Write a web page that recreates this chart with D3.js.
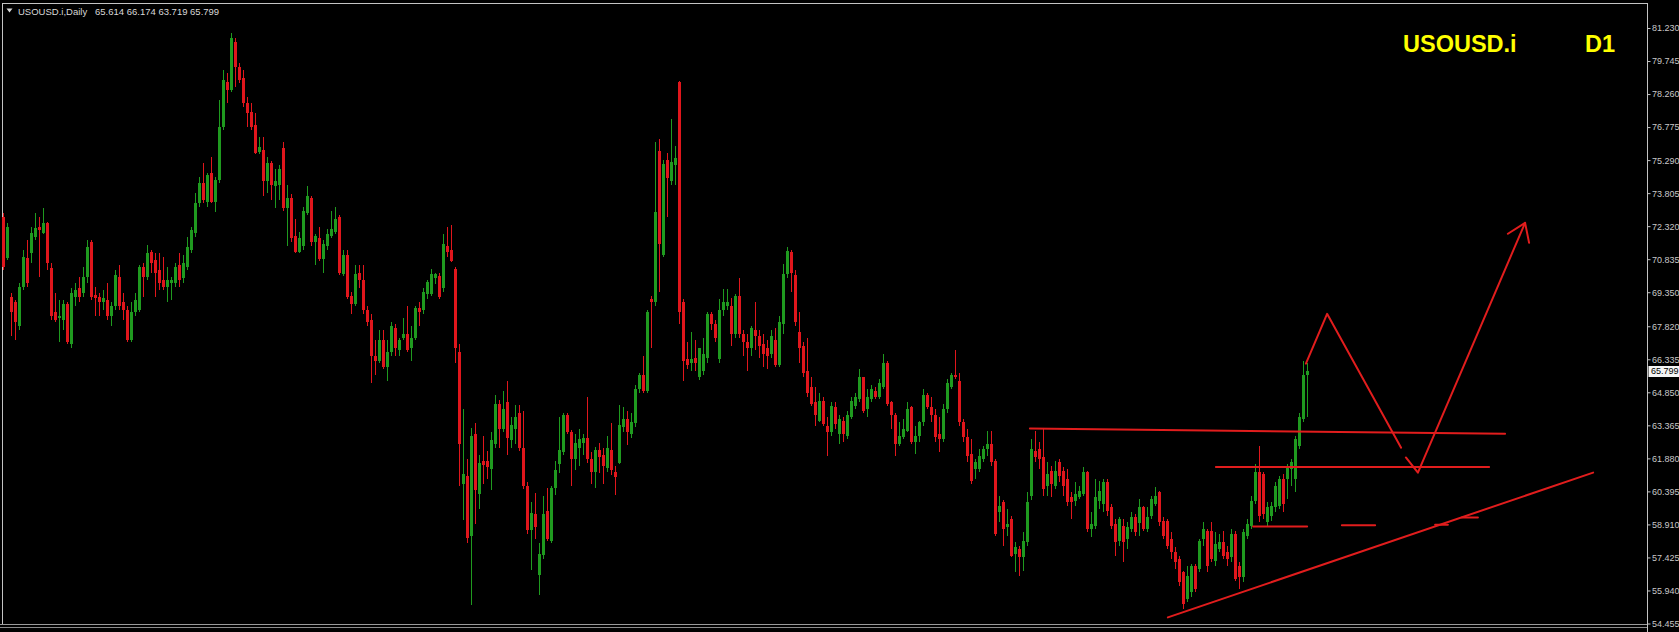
<!DOCTYPE html>
<html>
<head>
<meta charset="utf-8">
<script src="https://cdn.jsdelivr.net/npm/d3@7/dist/d3.min.js"></script>
<style>
  html, body { margin: 0; padding: 0; background: #000; overflow: hidden; }
  #chart { width: 1679px; height: 632px; }
</style>
</head>
<body>
<div id="chart"></div>
<script>
// chart texts
const symbolName = 'USOUSD.i';
const timeframeName = 'D1';
const headerName = 'USOUSD.i,Daily';
const headerValues = '65.614 66.174 63.719 65.799';
const lastPrice = 65.799;

// price axis labels
const priceTicks = [81.230, 79.745, 78.260, 76.775, 75.290, 73.805, 72.320, 70.835, 69.350,
    67.820, 66.335, 64.850, 63.365, 61.880, 60.395, 58.910, 57.425, 55.940, 54.455];

// daily bars, oldest first
const opens = [
    72.75, 70.91, 69.15, 68.89, 67.81, 69.60, 70.91, 71.13, 71.85, 72.30,
    72.03, 72.48, 70.46, 68.44, 68.17, 68.12, 68.80, 67.00, 69.15, 69.56,
    69.33, 70.05, 71.62, 69.24, 69.15, 68.89, 69.02, 68.26, 68.71, 70.05,
    68.89, 68.57, 67.22, 68.44, 68.57, 70.50, 70.05, 71.18, 70.82, 70.37,
    69.91, 69.60, 69.78, 69.78, 70.59, 70.01, 70.50, 71.26, 72.03, 73.38,
    74.27, 73.42, 74.72, 73.42, 74.41, 76.79, 78.81, 78.45, 80.60, 79.48,
    78.99, 77.87, 77.46, 76.88, 75.66, 75.75, 74.36, 75.17, 74.14, 74.18,
    75.84, 73.15, 73.60, 71.89, 71.18, 71.44, 72.93, 73.60, 71.62, 71.80,
    70.86, 71.44, 71.89, 72.07, 72.75, 70.19, 71.04, 69.20, 68.80, 70.23,
    69.91, 68.53, 68.12, 66.46, 66.28, 67.18, 65.97, 66.64, 67.76, 66.73,
    67.31, 67.49, 66.82, 67.31, 68.62, 68.53, 69.29, 69.29, 70.01, 70.10,
    69.56, 71.44, 71.26, 70.41, 66.64, 60.71, 61.07, 58.38, 62.96, 60.26,
    61.74, 61.74, 61.38, 62.51, 64.31, 63.19, 64.40, 62.69, 63.19, 63.90,
    62.33, 60.62, 58.65, 59.37, 56.63, 57.52, 59.50, 58.15, 60.53, 61.61,
    62.15, 63.85, 63.05, 61.83, 62.33, 62.56, 62.78, 61.83, 61.25, 62.24,
    62.01, 61.43, 62.24, 61.25, 61.65, 63.27, 63.67, 62.96, 63.45, 64.98,
    65.61, 64.89, 69.06, 68.89, 75.71, 71.04, 75.30, 74.36, 75.08, 78.81,
    68.89, 66.33, 66.15, 66.41, 65.52, 65.83, 66.41, 68.35, 67.94, 66.33,
    68.57, 68.75, 68.75, 67.45, 69.20, 67.45, 67.13, 66.82, 67.67, 67.36,
    67.04, 66.86, 66.55, 67.22, 66.10, 67.94, 70.19, 71.18, 70.14, 67.54,
    66.91, 65.79, 65.07, 64.40, 63.54, 64.44, 63.32, 63.05, 64.17, 62.96,
    63.54, 62.87, 63.76, 64.22, 64.53, 65.52, 64.08, 64.53, 64.89, 64.66,
    65.11, 66.19, 64.40, 63.85, 62.51, 62.82, 63.09, 64.17, 62.60, 62.87,
    63.50, 64.75, 64.17, 63.85, 62.96, 62.73, 64.08, 65.11, 65.65, 65.34,
    63.50, 62.82, 62.06, 61.38, 61.38, 61.83, 62.28, 62.51, 61.74, 59.46,
    59.90, 58.78, 59.14, 57.57, 57.80, 57.44, 58.11, 60.17, 62.20, 62.28,
    61.92, 60.62, 61.30, 60.62, 61.70, 61.30, 60.94, 60.13, 59.95, 60.13,
    60.26, 61.25, 58.69, 58.83, 59.95, 59.81, 60.80, 59.68, 58.92, 58.15,
    58.83, 58.24, 58.69, 59.23, 58.99, 59.68, 58.69, 59.28, 59.81, 60.35,
    59.05, 59.05, 58.24, 57.66, 57.34, 56.76, 55.55, 55.86, 57.03, 56.89,
    58.24, 58.60, 58.60, 57.26, 57.80, 58.11, 57.66, 57.44, 58.47, 57.03,
    56.54, 58.38, 58.83, 59.95, 61.25, 61.16, 59.01, 59.28, 59.68, 59.72,
    60.94, 60.94, 61.38, 60.94, 62.42, 63.63, 65.614
];
const highs = [
    72.93, 72.48, 69.33, 69.02, 69.78, 71.26, 71.71, 72.30, 72.93, 72.75,
    73.15, 72.52, 70.68, 69.33, 69.02, 69.02, 68.89, 69.56, 69.78, 70.05,
    70.50, 71.71, 71.71, 69.60, 69.33, 69.47, 69.78, 68.89, 70.37, 70.59,
    69.33, 68.71, 68.89, 69.33, 70.59, 70.68, 71.49, 71.26, 71.13, 71.13,
    70.95, 70.50, 70.05, 70.68, 71.13, 71.04, 71.85, 72.30, 73.82, 74.54,
    75.17, 74.72, 75.44, 74.54, 78.00, 79.35, 79.21, 81.01, 80.78, 79.66,
    79.35, 78.13, 77.87, 77.42, 76.34, 76.34, 75.44, 75.26, 74.90, 75.08,
    76.11, 74.18, 73.78, 72.66, 72.07, 73.20, 74.14, 73.69, 71.98, 72.30,
    71.71, 72.21, 73.02, 73.20, 72.84, 71.26, 71.26, 69.38, 70.59, 70.59,
    70.59, 68.71, 68.35, 67.18, 67.67, 67.67, 67.18, 68.03, 67.94, 67.31,
    68.17, 68.71, 67.85, 68.71, 68.89, 69.56, 69.92, 70.41, 70.23, 70.23,
    71.98, 72.30, 72.39, 70.50, 67.00, 64.08, 61.84, 63.23, 63.45, 62.02,
    62.87, 62.20, 63.05, 64.75, 64.49, 64.93, 65.34, 63.72, 64.26, 64.26,
    64.00, 60.80, 59.90, 60.31, 58.06, 60.18, 60.54, 60.62, 61.74, 63.76,
    63.90, 63.90, 63.14, 62.96, 63.18, 62.96, 64.62, 62.15, 62.37, 62.56,
    62.33, 62.87, 63.45, 61.52, 64.26, 64.17, 63.99, 63.90, 65.20, 65.70,
    66.50, 68.57, 69.20, 76.11, 76.25, 75.30, 75.62, 77.15, 75.93, 78.85,
    69.06, 67.13, 67.54, 67.22, 66.86, 67.27, 68.48, 68.48, 68.08, 69.06,
    69.51, 69.51, 69.11, 69.29, 70.01, 67.63, 67.45, 67.85, 68.89, 67.67,
    67.45, 67.22, 67.63, 67.76, 68.26, 70.64, 71.40, 71.26, 70.37, 68.44,
    67.09, 67.31, 65.56, 65.11, 64.84, 64.62, 63.72, 64.40, 64.40, 63.85,
    63.76, 63.99, 64.62, 64.84, 65.88, 65.56, 64.98, 65.20, 65.07, 65.43,
    66.55, 66.24, 64.44, 63.94, 63.50, 63.63, 64.40, 64.22, 63.32, 63.54,
    64.98, 64.84, 64.66, 64.08, 63.76, 64.31, 65.43, 65.74, 66.77, 65.74,
    63.63, 63.18, 62.73, 61.83, 62.28, 62.42, 63.09, 63.09, 61.83, 60.18,
    60.03, 59.59, 59.28, 58.11, 57.93, 58.56, 60.35, 62.73, 63.09, 62.60,
    63.18, 61.70, 61.52, 61.74, 61.83, 61.47, 61.38, 60.35, 60.80, 60.62,
    61.47, 61.30, 59.46, 60.94, 60.85, 60.94, 60.94, 59.81, 59.14, 59.23,
    59.14, 59.01, 59.46, 59.37, 60.04, 59.72, 59.68, 60.17, 60.58, 60.40,
    59.23, 59.14, 58.56, 57.89, 57.48, 56.80, 57.03, 57.12, 57.12, 58.24,
    59.01, 58.69, 59.01, 58.56, 58.47, 58.60, 57.93, 58.69, 58.60, 57.21,
    58.69, 59.14, 60.17, 61.61, 62.42, 61.25, 59.90, 59.90, 60.80, 61.07,
    61.16, 61.61, 61.83, 62.87, 63.94, 66.24, 66.174
];
const lows = [
    70.37, 70.82, 67.36, 67.22, 67.67, 69.47, 69.60, 70.68, 71.71, 70.05,
    71.95, 70.37, 68.12, 67.99, 67.13, 67.67, 67.00, 66.86, 68.71, 68.89,
    69.15, 69.78, 69.02, 68.26, 68.26, 68.57, 68.12, 67.81, 68.57, 68.57,
    68.12, 67.13, 67.13, 68.26, 68.44, 69.15, 69.91, 70.23, 69.15, 69.47,
    69.47, 68.89, 69.02, 69.60, 69.60, 69.78, 70.37, 71.13, 71.85, 73.20,
    73.38, 73.20, 73.38, 72.97, 74.27, 76.65, 77.87, 78.36, 78.58, 78.76,
    77.69, 76.79, 76.65, 75.55, 75.55, 73.69, 73.82, 73.51, 73.15, 73.51,
    73.02, 71.44, 71.62, 71.13, 71.13, 71.26, 72.84, 71.44, 70.59, 70.77,
    70.23, 71.26, 71.80, 71.98, 70.14, 70.10, 69.06, 68.35, 68.71, 69.56,
    68.35, 67.85, 65.25, 65.61, 66.15, 65.88, 65.34, 66.46, 66.46, 66.46,
    67.18, 66.64, 66.28, 67.18, 67.85, 68.35, 69.06, 69.20, 69.74, 69.06,
    69.38, 70.95, 70.70, 66.15, 60.62, 59.10, 58.06, 55.28, 58.92, 59.59,
    60.71, 60.94, 60.44, 62.33, 62.33, 63.05, 62.02, 62.33, 62.51, 62.20,
    60.48, 58.47, 56.85, 58.24, 55.73, 57.34, 58.15, 58.06, 60.22, 61.21,
    62.02, 62.96, 60.62, 61.34, 61.52, 62.02, 61.65, 60.71, 60.53, 61.21,
    60.71, 61.25, 61.12, 60.22, 61.61, 63.05, 62.47, 62.78, 63.27, 64.80,
    64.80, 64.80, 66.82, 68.75, 69.38, 70.95, 72.75, 74.18, 74.18, 67.94,
    65.38, 65.92, 65.83, 65.83, 65.40, 65.61, 66.15, 67.63, 67.13, 66.15,
    68.26, 68.57, 66.95, 67.27, 67.27, 66.50, 65.83, 66.50, 66.73, 66.41,
    66.01, 65.92, 66.41, 66.01, 66.01, 67.45, 70.01, 69.38, 67.81, 66.19,
    65.56, 64.66, 64.22, 63.32, 63.50, 63.32, 61.97, 62.87, 63.18, 62.51,
    62.60, 62.73, 63.63, 64.08, 64.40, 63.94, 63.72, 64.40, 64.53, 64.53,
    64.98, 64.22, 63.18, 61.97, 62.42, 62.73, 63.05, 62.51, 62.06, 62.60,
    63.32, 64.08, 63.50, 62.60, 62.15, 62.60, 63.94, 64.98, 65.43, 63.32,
    62.60, 61.70, 60.71, 60.94, 61.25, 61.70, 61.97, 61.52, 58.38, 59.01,
    57.93, 58.38, 57.44, 56.76, 56.58, 56.80, 57.93, 60.03, 61.70, 61.38,
    60.17, 60.17, 60.13, 60.49, 60.80, 60.17, 59.73, 59.14, 59.73, 60.04,
    60.17, 58.56, 58.33, 58.69, 59.59, 59.46, 59.28, 58.69, 57.48, 57.93,
    57.21, 57.80, 58.56, 58.38, 58.38, 58.60, 58.56, 59.14, 59.72, 58.83,
    58.24, 57.80, 57.34, 56.89, 56.13, 55.10, 55.42, 55.64, 55.86, 56.76,
    57.93, 56.76, 57.21, 57.03, 57.66, 57.34, 57.03, 57.21, 56.36, 55.99,
    56.31, 58.24, 58.69, 59.81, 59.01, 59.14, 58.83, 59.05, 59.46, 59.59,
    59.46, 60.04, 60.62, 60.35, 62.28, 63.50, 63.719
];
const closes = [
    70.50, 72.30, 68.44, 67.99, 69.60, 70.95, 69.78, 72.03, 72.25, 72.16,
    72.48, 70.68, 68.26, 68.12, 68.26, 68.80, 67.09, 69.33, 69.47, 69.15,
    70.05, 71.40, 69.15, 69.11, 68.89, 69.11, 68.26, 68.71, 70.14, 68.71,
    68.57, 67.22, 68.44, 69.02, 70.50, 70.05, 71.13, 70.68, 70.23, 69.78,
    69.60, 69.91, 69.91, 70.50, 69.91, 70.68, 71.40, 72.16, 73.38, 74.27,
    73.51, 74.63, 73.42, 74.41, 76.79, 78.90, 78.45, 80.78, 79.48, 78.90,
    77.87, 77.42, 76.79, 75.62, 75.89, 74.36, 75.17, 74.18, 74.36, 74.90,
    73.15, 73.60, 71.80, 71.18, 71.80, 73.02, 73.69, 71.62, 71.89, 70.86,
    71.53, 71.98, 72.21, 72.66, 70.23, 71.04, 69.15, 68.80, 70.19, 69.91,
    68.53, 68.03, 66.46, 66.28, 67.18, 65.97, 66.64, 67.85, 66.82, 67.18,
    67.49, 66.73, 67.31, 68.62, 68.44, 69.38, 69.83, 70.19, 70.19, 69.15,
    71.53, 71.18, 70.77, 66.82, 62.51, 61.16, 58.29, 62.87, 60.44, 61.65,
    61.56, 61.47, 62.69, 64.31, 63.19, 64.08, 62.78, 63.36, 63.72, 62.33,
    60.62, 58.65, 59.41, 58.78, 57.57, 59.37, 58.24, 60.53, 61.34, 62.24,
    63.85, 63.05, 61.83, 62.56, 62.73, 62.78, 61.83, 61.25, 62.24, 61.92,
    61.52, 62.33, 61.34, 61.03, 63.36, 63.67, 63.05, 63.50, 65.02, 65.61,
    64.89, 68.48, 68.89, 72.97, 71.53, 75.12, 74.50, 75.21, 75.39, 68.48,
    66.24, 66.10, 66.33, 66.15, 66.82, 66.55, 68.39, 67.94, 67.27, 68.57,
    68.89, 68.89, 67.45, 69.20, 67.45, 67.13, 66.82, 67.76, 67.36, 66.95,
    66.55, 66.50, 67.36, 66.10, 67.99, 70.19, 71.22, 70.23, 67.99, 66.86,
    65.74, 64.84, 64.31, 63.85, 64.44, 63.41, 63.05, 64.22, 63.41, 63.63,
    62.96, 63.85, 64.44, 64.62, 65.56, 63.99, 64.62, 64.98, 64.66, 65.29,
    66.19, 64.31, 63.85, 62.51, 62.87, 63.18, 64.08, 62.60, 62.87, 63.50,
    64.75, 64.17, 63.85, 62.82, 62.73, 64.08, 65.29, 65.65, 65.52, 63.50,
    62.82, 61.97, 60.85, 61.70, 61.97, 62.28, 62.51, 61.70, 58.47, 59.73,
    58.69, 58.92, 57.48, 57.89, 57.44, 58.15, 59.90, 62.28, 61.92, 61.83,
    60.49, 61.16, 60.71, 61.30, 61.07, 60.62, 59.90, 59.90, 60.26, 60.40,
    61.25, 58.69, 58.92, 60.13, 60.40, 60.80, 59.50, 58.83, 58.11, 59.14,
    58.11, 58.78, 59.23, 58.56, 59.68, 58.69, 59.23, 60.04, 60.17, 59.01,
    58.38, 57.93, 57.66, 57.21, 56.31, 55.33, 56.58, 57.03, 55.99, 58.15,
    58.69, 57.03, 57.34, 58.02, 58.11, 57.48, 57.34, 58.47, 56.45, 56.54,
    58.56, 58.92, 59.95, 61.25, 59.28, 59.37, 59.68, 59.72, 60.62, 60.94,
    59.81, 61.47, 61.70, 62.73, 63.72, 65.65, 65.799
];

// hand-drawn analysis lines, as [bar index, price]
const resistanceLine = [[256.6, 63.22], [375.4, 62.99]];
const supportLine = [[303.1, 61.49], [371.4, 61.49]];
const rangeLowLine = [[312.4, 58.82], [325.9, 58.82]];
const rangeLowDashes = [
    [[334.6, 58.87], [342.9, 58.87]],
    [[357.9, 58.90], [361.1, 58.90]],
    [[364.6, 59.22], [368.6, 59.22]]
];
const trendLine = [[291.1, 54.73], [397.4, 61.24]];
const forecastUp = [[325.6, 66.14], [330.9, 68.38], [349.4, 62.36]];
const forecastDown = [[350.6, 61.92], [353.6, 61.24], [380.4, 72.47]];
const arrowHead = [[376.1, 71.98], [380.4, 72.47], [381.4, 71.57]];

const ChartModule = (() => {
    const width = 1679;
    const height = 632;
    const axisX = 1647;       // right price scale border
    const frameTop = 3;
    const frameBottom = 624;

    const upColor = '#1f9a1f';
    const downColor = '#e0161c';
    const lineColor = '#e11d1d';
    const frameColor = '#c4c4c4';
    const scaleFont = '"Liberation Sans", Arial, sans-serif';

    function draw() {
        const bars = opens.map((o, i) => ({
            i, o, h: highs[i], l: lows[i], c: closes[i]
        }));

        const svg = d3.select('#chart')
            .append('svg')
            .attr('width', width)
            .attr('height', height)
            .style('display', 'block')
            .style('background', '#000');

        const x = d3.scaleLinear()
            .domain([0, bars.length - 1])
            .range([3.5, 3.5 + 4 * (bars.length - 1)]);

        const y = d3.scaleLinear()
            .domain([54.455, 81.23])
            .range([623.5, 28]);

        // frame
        const frame = svg.append('g')
            .attr('stroke', frameColor)
            .attr('shape-rendering', 'crispEdges');
        frame.append('line').attr('x1', 2.5).attr('x2', 2.5).attr('y1', frameTop).attr('y2', frameBottom);
        frame.append('line').attr('x1', 2).attr('x2', axisX).attr('y1', frameTop + 0.5).attr('y2', frameTop + 0.5);
        frame.append('line').attr('x1', axisX + 0.5).attr('x2', axisX + 0.5).attr('y1', frameTop).attr('y2', height);
        frame.append('line').attr('x1', 0).attr('x2', axisX).attr('y1', frameBottom + 0.5).attr('y2', frameBottom + 0.5)
            .attr('stroke', '#9a9a9a');
        frame.append('line').attr('x1', 0).attr('x2', axisX).attr('y1', frameBottom + 3.5).attr('y2', frameBottom + 3.5)
            .attr('stroke', '#8a8a8a');

        // candles
        const candles = svg.append('g')
            .attr('class', 'candles')
            .attr('shape-rendering', 'crispEdges');

        const candle = candles.selectAll('g.bar')
            .data(bars)
            .enter()
            .append('g')
            .attr('class', 'bar')
            .attr('fill', d => d.c >= d.o ? upColor : downColor)
            .attr('stroke', d => d.c >= d.o ? upColor : downColor);

        candle.append('line')
            .attr('x1', d => x(d.i))
            .attr('x2', d => x(d.i))
            .attr('y1', d => y(d.h))
            .attr('y2', d => y(d.l))
            .attr('stroke-width', 1);

        candle.append('rect')
            .attr('stroke', 'none')
            .attr('x', d => x(d.i) - 1.5)
            .attr('width', 3)
            .attr('y', d => y(Math.max(d.o, d.c)))
            .attr('height', d => Math.max(1, Math.abs(y(d.o) - y(d.c))));

        // analysis drawings
        const line = d3.line()
            .x(p => x(p[0]))
            .y(p => y(p[1]));

        const drawings = svg.append('g')
            .attr('fill', 'none')
            .attr('stroke', lineColor)
            .attr('stroke-width', 2)
            .attr('stroke-linecap', 'round')
            .attr('stroke-linejoin', 'round');

        [resistanceLine, supportLine, rangeLowLine, trendLine, forecastUp, forecastDown, arrowHead]
            .concat(rangeLowDashes)
            .forEach(pts => {
                drawings.append('path').attr('d', line(pts));
            });

        // price scale
        const axis = d3.axisRight(y)
            .tickValues(priceTicks)
            .tickSize(3)
            .tickPadding(1.5)
            .tickFormat(d3.format('.3f'));

        svg.append('g')
            .attr('transform', `translate(${axisX + 0.5},0)`)
            .call(axis)
            .call(g => g.select('.domain').remove())
            .call(g => g.selectAll('.tick line').attr('stroke', frameColor))
            .call(g => g.selectAll('.tick text')
                .attr('fill', '#c8c8c8')
                .style('font-family', scaleFont)
                .style('font-size', '9px'));

        // current price marker
        const ly = y(lastPrice);
        svg.append('rect')
            .attr('x', axisX + 1.5)
            .attr('y', Math.round(ly) - 5)
            .attr('width', width - axisX - 1.5)
            .attr('height', 11)
            .attr('fill', '#f4f4f4');
        svg.append('text')
            .attr('x', axisX + 4)
            .attr('y', ly)
            .attr('dy', '0.35em')
            .attr('fill', '#000')
            .style('font-family', scaleFont)
            .style('font-size', '9px')
            .text(d3.format('.3f')(lastPrice));

        // header
        svg.append('path')
            .attr('d', 'M6.5,8.5 L12.5,8.5 L9.5,12.5 Z')
            .attr('fill', '#d8d8d8');
        const header = svg.append('g')
            .attr('fill', '#d8d8d8')
            .style('font-family', scaleFont)
            .style('font-size', '9.5px');
        header.append('text').attr('x', 18).attr('y', 14.5).text(headerName);
        header.append('text').attr('x', 95).attr('y', 14.5).text(headerValues);

        // big symbol label
        const label = svg.append('g')
            .attr('fill', '#ffff00')
            .style('font-family', scaleFont)
            .style('font-weight', 'bold')
            .style('font-size', '23.5px');
        label.append('text').attr('x', 1403).attr('y', 52).text(symbolName);
        label.append('text').attr('x', 1585).attr('y', 52).text(timeframeName);
    }

    return { draw };
})();

ChartModule.draw();
</script>
</body>
</html>
